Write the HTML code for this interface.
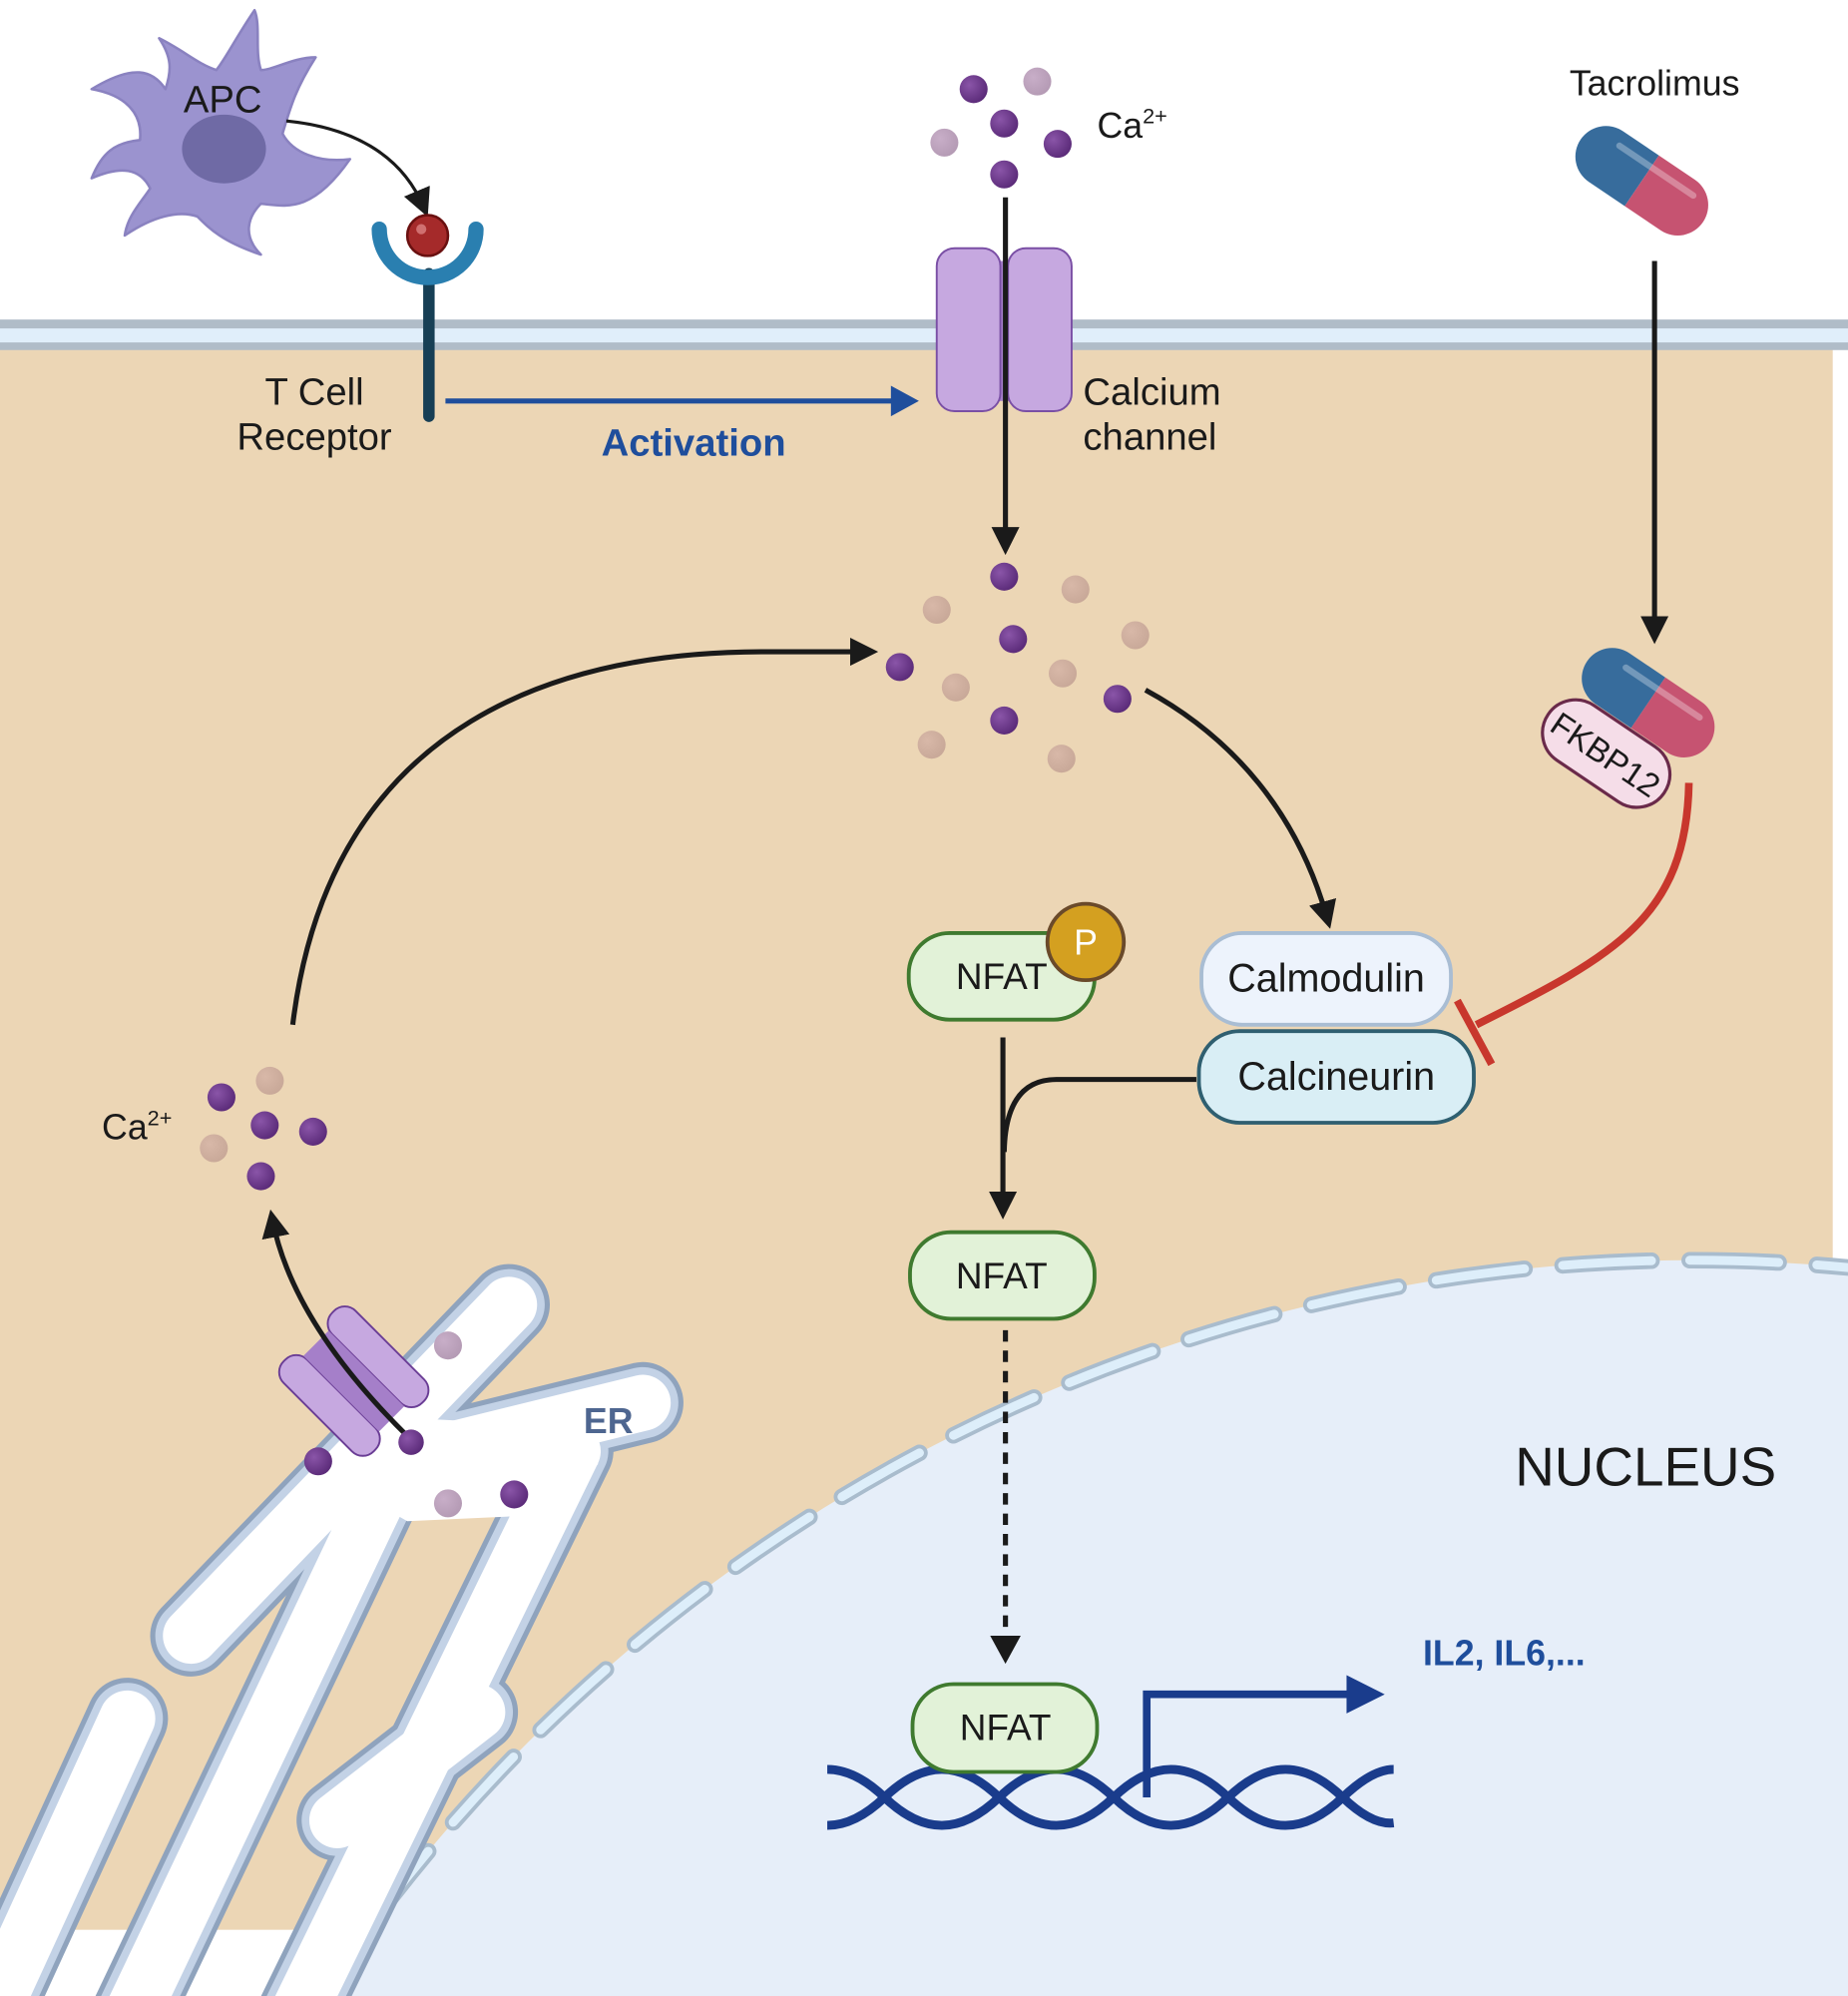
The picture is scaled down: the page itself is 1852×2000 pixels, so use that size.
<!DOCTYPE html>
<html><head><meta charset="utf-8"><style>
html,body{margin:0;padding:0;background:#fff;width:1852px;height:2000px;overflow:hidden}
svg{display:block}
text{font-family:"Liberation Sans",sans-serif}
</style></head><body>
<svg width="1852" height="2000" viewBox="0 0 1452 1568" xmlns="http://www.w3.org/2000/svg">
<defs>
<marker id="ah" markerWidth="22" markerHeight="22" refX="14" refY="11" orient="auto" markerUnits="userSpaceOnUse" viewBox="0 0 22 22"><path d="M0,0 L22,11 L0,22z" fill="#1a1a1a"/></marker>
<radialGradient id="dk" cx="35%" cy="35%" r="70%"><stop offset="0" stop-color="#8a55a8"/><stop offset="1" stop-color="#5a2a78"/></radialGradient>
<radialGradient id="lt" cx="35%" cy="35%" r="70%"><stop offset="0" stop-color="#c8aec8"/><stop offset="1" stop-color="#b49ab4"/></radialGradient>
<radialGradient id="tn" cx="35%" cy="35%" r="70%"><stop offset="0" stop-color="#d8b8a8"/><stop offset="1" stop-color="#c8a898"/></radialGradient>
</defs>
<rect x="0" y="272" width="1440" height="1244" fill="#ecd6b5"/>
<rect x="0" y="251" width="1452" height="24" fill="#b0bcc8"/>
<rect x="0" y="258" width="1452" height="11" fill="#e0eefa"/>
<circle cx="1330" cy="2285" r="1295" fill="#e6eef9"/>
<circle cx="1330" cy="2285" r="1295" fill="none" stroke="#a9bccd" stroke-width="13" stroke-dasharray="70 30" stroke-linecap="round"/>
<circle cx="1330" cy="2285" r="1295" fill="none" stroke="#ddeefa" stroke-width="7" stroke-dasharray="70 30" stroke-linecap="round"/>
<!-- ER -->
<g fill="none" stroke-linecap="round">
<g stroke="#8fa3bd" stroke-width="64">
<path d="M150,1285 L400,1025"/><path d="M330,1145 L505,1102"/>
<path d="M300,1170 L100,1590"/><path d="M450,1140 L230,1590"/>
<path d="M375,1345 L265,1430"/><path d="M100,1350 L0,1568"/>
</g>
<g stroke="#c3d2e6" stroke-width="56">
<path d="M150,1285 L400,1025"/><path d="M330,1145 L505,1102"/>
<path d="M300,1170 L100,1590"/><path d="M450,1140 L230,1590"/>
<path d="M375,1345 L265,1430"/><path d="M100,1350 L0,1568"/>
</g>
<g stroke="#fff" stroke-width="44">
<path d="M150,1285 L400,1025"/><path d="M330,1145 L505,1102"/>
<path d="M300,1170 L100,1590"/><path d="M450,1140 L230,1590"/>
<path d="M375,1345 L265,1430"/><path d="M100,1350 L0,1568"/>
</g>
</g>
<polygon points="290,1140 340,1115 440,1120 470,1150 430,1190 320,1195 285,1175" fill="#fff"/>
<text x="478" y="1126" font-size="28" font-weight="bold" fill="#4e6690" text-anchor="middle">ER</text>
<g transform="translate(278,1085) rotate(45)">
<rect x="-50" y="-40" width="100" height="26" rx="12" fill="#c6a8e0" stroke="#6a3d95" stroke-width="1.5"/>
<rect x="-50" y="14" width="100" height="26" rx="12" fill="#c6a8e0" stroke="#6a3d95" stroke-width="1.5"/>
<rect x="-42" y="-14" width="84" height="28" fill="#a57fc9"/>
</g>
<path d="M322,1130 Q230,1040 214,958" fill="none" stroke="#1a1a1a" stroke-width="4" marker-end="url(#ah)"/>
<circle cx="250" cy="1148" r="11" fill="url(#dk)"/><circle cx="323" cy="1133" r="10" fill="url(#dk)"/>
<circle cx="404" cy="1174" r="11" fill="url(#dk)"/><circle cx="352" cy="1057" r="11" fill="url(#lt)"/>
<circle cx="352" cy="1181" r="11" fill="url(#lt)"/>
<text x="80" y="895" font-size="28" fill="#1a1a1a">Ca<tspan font-size="17" dy="-11">2+</tspan></text>
<circle cx="174" cy="862" r="11" fill="url(#dk)"/><circle cx="212" cy="849" r="11" fill="url(#tn)"/>
<circle cx="208" cy="884" r="11" fill="url(#dk)"/><circle cx="246" cy="889" r="11" fill="url(#dk)"/>
<circle cx="168" cy="902" r="11" fill="url(#tn)"/><circle cx="205" cy="924" r="11" fill="url(#dk)"/>
<path d="M230,805 C260,560 450,512 600,512 L682,512" fill="none" stroke="#1a1a1a" stroke-width="4" marker-end="url(#ah)"/>
<!-- APC -->
<g fill="#9b93cf" stroke="#8a82c0" stroke-width="2" stroke-linejoin="round">
<path d="M130,70 C120,55 105,50 72,70 C100,75 112,90 110,110 C90,112 80,120 72,140 C95,130 110,132 118,148 C110,160 100,170 98,185 C120,170 140,165 155,170 C165,180 175,190 205,200 C190,185 195,170 205,160 C225,162 245,168 275,125 C250,128 230,120 222,105 C228,85 232,70 248,45 C230,45 215,55 205,55 C200,40 205,20 200,8 C185,30 178,45 170,55 C155,50 145,40 125,30 C135,45 135,55 130,70z"/>
</g>
<ellipse cx="176" cy="117" rx="33" ry="27" fill="#6f6aa5"/>
<text x="175" y="88" font-size="30" fill="#1a1a1a" text-anchor="middle">APC</text>
<path d="M225,95 C275,100 315,120 333,163" fill="none" stroke="#1a1a1a" stroke-width="2.5" marker-end="url(#ah)"/>
<line x1="337" y1="215" x2="337" y2="327" stroke="#173f55" stroke-width="9" stroke-linecap="round"/>
<path d="M298,180 A38,38 0 0 0 374,180" fill="none" stroke="#2a7fb0" stroke-width="12" stroke-linecap="round"/>
<circle cx="336" cy="185" r="16" fill="#a52a2a" stroke="#6a1010" stroke-width="2"/>
<circle cx="331" cy="180" r="4" fill="#d07070"/>
<text x="247" y="318" font-size="30" fill="#1a1a1a" text-anchor="middle">T Cell</text>
<text x="247" y="353" font-size="30" fill="#1a1a1a" text-anchor="middle">Receptor</text>
<line x1="350" y1="315" x2="705" y2="315" stroke="#1f4e9c" stroke-width="4"/>
<path d="M700,303 L722,315 L700,327z" fill="#1f4e9c"/>
<text x="545" y="358" font-size="30" font-weight="bold" fill="#1f4e9c" text-anchor="middle">Activation</text>
<rect x="765" y="205" width="50" height="110" fill="#a57fc9"/>
<rect x="736" y="195" width="50" height="128" rx="14" fill="#c6a8e0" stroke="#7a4fa5" stroke-width="1.5"/>
<rect x="792" y="195" width="50" height="128" rx="14" fill="#c6a8e0" stroke="#7a4fa5" stroke-width="1.5"/>
<line x1="790" y1="155" x2="790" y2="428" stroke="#1a1a1a" stroke-width="4" marker-end="url(#ah)"/>
<text x="851" y="318" font-size="30" fill="#1a1a1a">Calcium</text>
<text x="851" y="353" font-size="30" fill="#1a1a1a">channel</text>
<circle cx="765" cy="70" r="11" fill="url(#dk)"/><circle cx="815" cy="64" r="11" fill="url(#lt)"/>
<circle cx="789" cy="97" r="11" fill="url(#dk)"/><circle cx="742" cy="112" r="11" fill="url(#lt)"/>
<circle cx="831" cy="113" r="11" fill="url(#dk)"/><circle cx="789" cy="137" r="11" fill="url(#dk)"/>
<text x="862" y="108" font-size="28" fill="#1a1a1a">Ca<tspan font-size="17" dy="-11">2+</tspan></text>
<circle cx="789" cy="453" r="11" fill="url(#dk)"/><circle cx="845" cy="463" r="11" fill="url(#tn)"/>
<circle cx="736" cy="479" r="11" fill="url(#tn)"/><circle cx="892" cy="499" r="11" fill="url(#tn)"/>
<circle cx="796" cy="502" r="11" fill="url(#dk)"/><circle cx="707" cy="524" r="11" fill="url(#dk)"/>
<circle cx="835" cy="529" r="11" fill="url(#tn)"/><circle cx="751" cy="540" r="11" fill="url(#tn)"/>
<circle cx="878" cy="549" r="11" fill="url(#dk)"/><circle cx="789" cy="566" r="11" fill="url(#dk)"/>
<circle cx="732" cy="585" r="11" fill="url(#tn)"/><circle cx="834" cy="596" r="11" fill="url(#tn)"/>
<path d="M900,542 C970,580 1020,640 1043,722" fill="none" stroke="#1a1a1a" stroke-width="4" marker-end="url(#ah)"/>
<text x="1300" y="75" font-size="28" fill="#1a1a1a" text-anchor="middle">Tacrolimus</text>
<g transform="translate(1290,142) rotate(34)">
<path d="M0,-24 L-34,-24 A24,24 0 0 0 -34,24 L0,24z" fill="#376c9c"/>
<path d="M0,-24 L34,-24 A24,24 0 0 1 34,24 L0,24z" fill="#c65371"/>
<line x1="-30" y1="-13" x2="40" y2="-13" stroke="#fff" stroke-opacity="0.3" stroke-width="5" stroke-linecap="round"/>
</g>
<line x1="1300" y1="205" x2="1300" y2="498" stroke="#1a1a1a" stroke-width="4" marker-end="url(#ah)"/>
<g transform="translate(1295,552) rotate(34)">
<path d="M0,-24 L-34,-24 A24,24 0 0 0 -34,24 L0,24z" fill="#376c9c"/>
<path d="M0,-24 L34,-24 A24,24 0 0 1 34,24 L0,24z" fill="#c65371"/>
<line x1="-30" y1="-13" x2="40" y2="-13" stroke="#fff" stroke-opacity="0.3" stroke-width="5" stroke-linecap="round"/>
</g>
<g transform="translate(1262,592) rotate(34)">
<rect x="-55" y="-26" width="110" height="52" rx="26" fill="#f5dde8" stroke="#6a2a4a" stroke-width="2.5"/>
<text x="0" y="10" font-size="26" fill="#1a1a1a" text-anchor="middle">FKBP12</text>
</g>
<path d="M1327,615 C1325,720 1270,750 1160,805" fill="none" stroke="#c8372d" stroke-width="6"/>
<line x1="1145" y1="786" x2="1172" y2="836" stroke="#c8372d" stroke-width="6"/>
<rect x="944" y="733" width="196" height="72" rx="32" fill="#edf3fc" stroke="#a9bdd3" stroke-width="3"/>
<text x="1042" y="779" font-size="31" fill="#1a1a1a" text-anchor="middle">Calmodulin</text>
<rect x="942" y="810" width="216" height="72" rx="32" fill="#d9eef5" stroke="#2f5f70" stroke-width="3"/>
<text x="1050" y="856" font-size="31" fill="#1a1a1a" text-anchor="middle">Calcineurin</text>
<rect x="714" y="733" width="146" height="68" rx="32" fill="#e2f2d8" stroke="#3f7a2f" stroke-width="3"/>
<text x="787" y="777" font-size="29" fill="#1a1a1a" text-anchor="middle">NFAT</text>
<circle cx="853" cy="740" r="30" fill="#d4a020" stroke="#6a4a2a" stroke-width="3"/>
<text x="853" y="750" font-size="28" fill="#fff" text-anchor="middle">P</text>
<line x1="788" y1="815" x2="788" y2="950" stroke="#1a1a1a" stroke-width="4" marker-end="url(#ah)"/>
<path d="M940,848 L830,848 Q790,848 789,905" fill="none" stroke="#1a1a1a" stroke-width="4"/>
<rect x="715" y="968" width="145" height="68" rx="32" fill="#e2f2d8" stroke="#3f7a2f" stroke-width="3"/>
<text x="787" y="1012" font-size="29" fill="#1a1a1a" text-anchor="middle">NFAT</text>
<line x1="790" y1="1045" x2="790" y2="1292" stroke="#1a1a1a" stroke-width="4" stroke-dasharray="9 7"/>
<path d="M778,1285 L790,1307 L802,1285z" fill="#1a1a1a"/>
<g fill="none" stroke="#1a3c8c" stroke-width="7">
<path d="M650,1390 Q672,1390 695,1412 T740,1434 T785,1412 T830,1390 T875,1412 T920,1434 T965,1412 T1010,1390 T1055,1412 T1095,1432"/>
<path d="M650,1434 Q672,1434 695,1412 T740,1390 T785,1412 T830,1434 T875,1412 T920,1390 T965,1412 T1010,1434 T1055,1412 T1095,1390"/>
</g>
<rect x="717" y="1323" width="145" height="69" rx="32" fill="#e2f2d8" stroke="#3f7a2f" stroke-width="3"/>
<text x="790" y="1367" font-size="29" fill="#1a1a1a" text-anchor="middle">NFAT</text>
<path d="M901,1412 L901,1331 L1062,1331" fill="none" stroke="#1a3c8c" stroke-width="6"/>
<path d="M1058,1316 L1088,1331 L1058,1346z" fill="#1a3c8c"/>
<text x="1118" y="1308" font-size="28" font-weight="bold" fill="#1f4e9c">IL2, IL6,...</text>
<text x="1293" y="1167" font-size="43" fill="#1a1a1a" text-anchor="middle">NUCLEUS</text>
</svg>
</body></html>
